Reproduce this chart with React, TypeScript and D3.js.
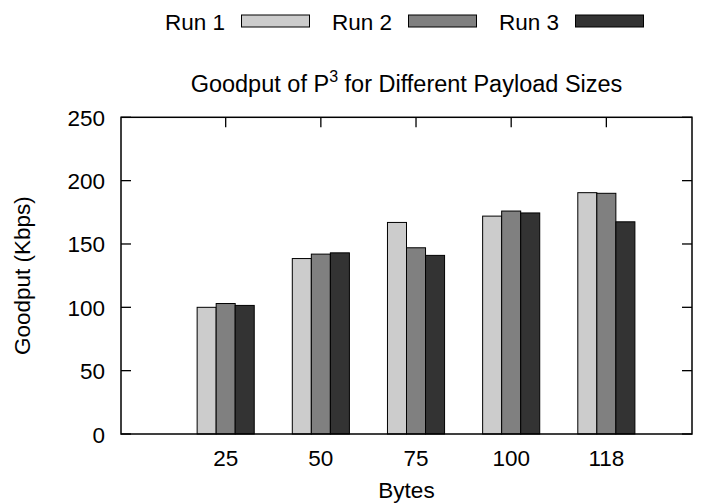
import React from 'react'
import { scaleLinear } from 'd3'

// Data
const categories = ['25', '50', '75', '100', '118']
const run1 = [100, 138.5, 167, 172, 190.5]
const run2 = [103, 142, 147, 176, 190]
const run3 = [101.5, 143, 141, 174.5, 167.5]
const seriesNames = ['Run 1', 'Run 2', 'Run 3']
const yTicks = [0, 50, 100, 150, 200, 250]

const colors = ['#cccccc', '#808080', '#333333']
const font = '"Liberation Sans", Arial, Helvetica, sans-serif'
const fs = 22.5

const W = 703
const H = 504
const left = 121
const right = 692
const top = 117.3
const bottom = 434

const App = () => {
    const series = [run1, run2, run3]

    const xScale = scaleLinear().domain([-1.1, 4.9]).range([left, right])
    const yScale = scaleLinear().domain([0, 250]).range([bottom, top])
    const barW = 0.2

    // legend layout: one entry every 167px
    const legendX = scaleLinear().domain([0, 1]).range([165, 332])

    return (
        <svg width={W} height={H} style={{ position: 'absolute', left: 0, top: 0, background: '#fff' }}
            fontFamily={font}>
            <rect x={0} y={0} width={W} height={H} fill="#fff" />

            {/* Legend */}
            {seriesNames.map((name, i) => (
                <g key={name}>
                    <text x={legendX(i)} y={30} fontSize={fs}>{name}</text>
                    <rect x={legendX(i) + 76.5} y={15} width={68} height={12}
                        fill={colors[i]} stroke="#000" strokeWidth={1} />
                </g>
            ))}

            {/* Title */}
            <text x={(left + right) / 2} y={92} fontSize={23.5} textAnchor="middle">
                Goodput of P<tspan dy={-10} fontSize={16}>3</tspan><tspan dy={10}> for Different Payload Sizes</tspan>
            </text>

            {/* Bars */}
            {categories.map((cat, ci) => (
                <g key={cat}>
                    {series.map((s, si) => {
                        const x0 = xScale(ci - 0.3 + si * barW)
                        const x1 = xScale(ci - 0.3 + (si + 1) * barW)
                        return (
                            <rect key={si} x={x0} y={yScale(s[ci])} width={x1 - x0}
                                height={yScale(0) - yScale(s[ci])}
                                fill={colors[si]} stroke="#000" strokeWidth={1} />
                        )
                    })}
                </g>
            ))}

            {/* Ticks */}
            {yTicks.map(t => (
                <g key={t}>
                    <line x1={left} x2={left + 10} y1={yScale(t)} y2={yScale(t)} stroke="#000" strokeWidth={1.3} />
                    <line x1={right} x2={right - 10} y1={yScale(t)} y2={yScale(t)} stroke="#000" strokeWidth={1.3} />
                    <text x={105} y={yScale(t) + 8.5} fontSize={fs} textAnchor="end">{t}</text>
                </g>
            ))}
            {categories.map((cat, ci) => (
                <g key={cat}>
                    <line x1={xScale(ci)} x2={xScale(ci)} y1={top} y2={top + 10} stroke="#000" strokeWidth={1.3} />
                    <text x={xScale(ci)} y={466} fontSize={fs} textAnchor="middle">{cat}</text>
                </g>
            ))}

            {/* Frame */}
            <rect x={left} y={top} width={right - left} height={bottom - top}
                fill="none" stroke="#000" strokeWidth={1.5} />

            {/* Axis labels */}
            <text x={(left + right) / 2} y={498} fontSize={fs} textAnchor="middle">Bytes</text>
            <text transform={`translate(30, ${(top + bottom) / 2}) rotate(-90)`} fontSize={fs}
                textAnchor="middle">Goodput (Kbps)</text>
        </svg>
    )
}

export default App
